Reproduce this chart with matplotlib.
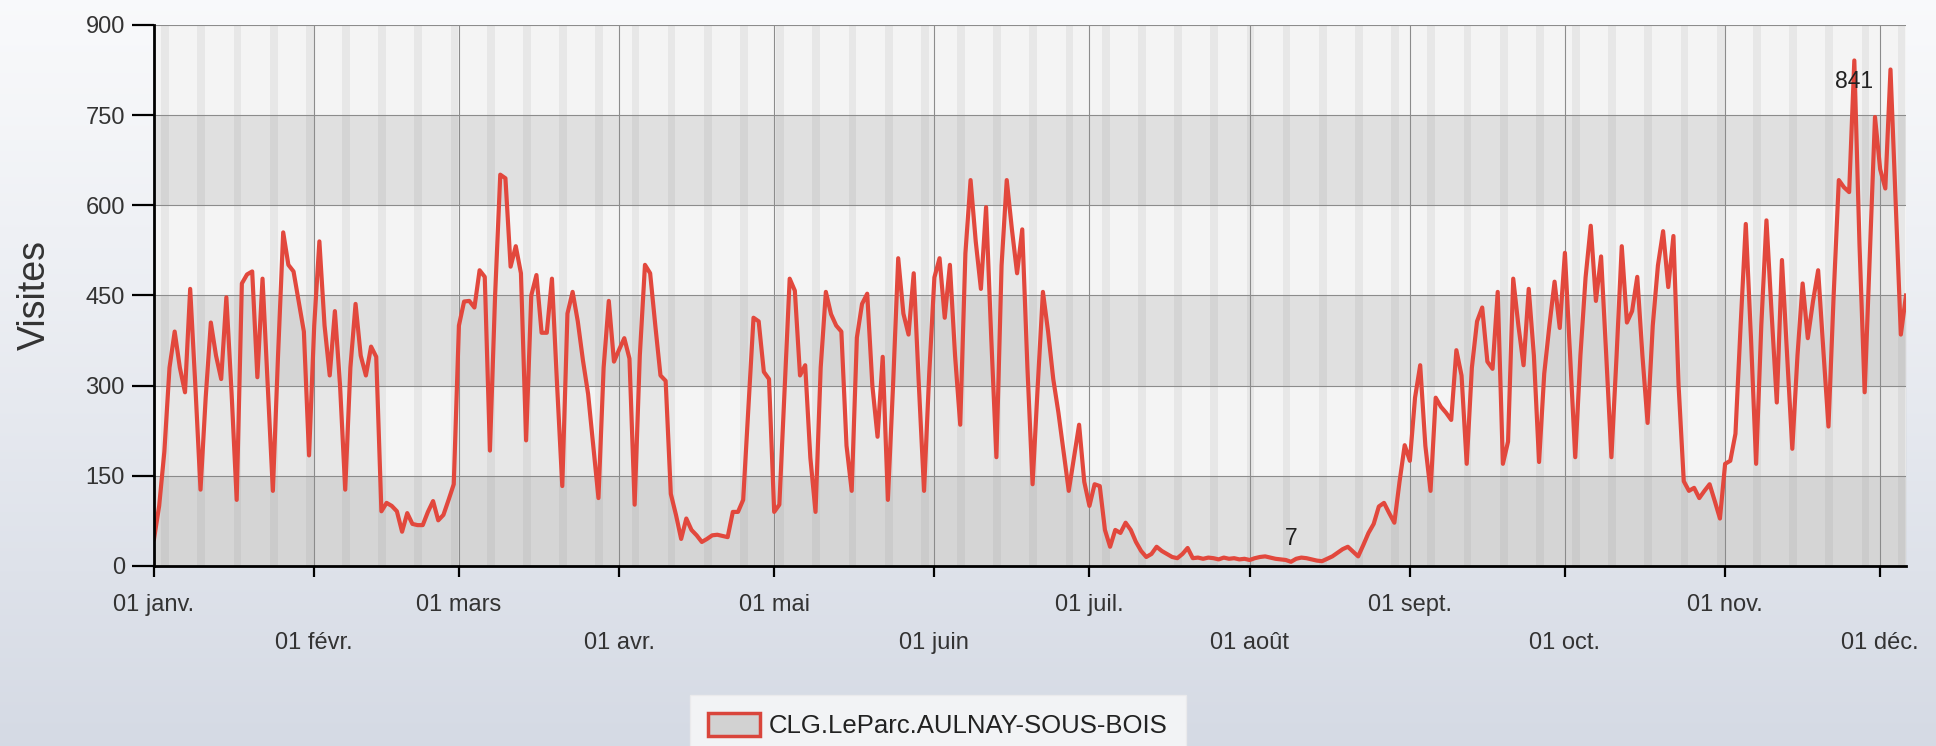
import numpy as np
import matplotlib
matplotlib.use('Agg')
import matplotlib.pyplot as plt
from matplotlib.patches import Patch

plt.rcParams['font.family'] = ['Liberation Sans', 'DejaVu Sans']

# ---------------- data ----------------
start_date = '2010-01-01'
series_name = 'CLG.LeParc.AULNAY-SOUS-BOIS'
y_label = 'Visites'
y_ticks = [0, 150, 300, 450, 600, 750, 900]
month_labels = ['01 janv.', '01 févr.', '01 mars', '01 avr.', '01 mai', '01 juin',
                '01 juil.', '01 août', '01 sept.', '01 oct.', '01 nov.', '01 déc.']

visits_jan = [45, 100, 190, 330, 390, 330, 289, 461, 300, 127,
              280, 405, 350, 311, 447, 290, 110, 470, 485, 490,
              314, 478, 300, 125, 350, 555, 501, 490, 440, 390, 184]
visits_feb = [400, 540, 400, 317, 424, 300, 127, 330, 436,
              350, 317, 365, 348, 91, 105, 100, 91, 57, 88,
              70, 68, 68, 90, 108, 76, 85, 110, 136]
visits_mar = [400, 440, 441, 430, 492, 481, 192, 450, 651, 645, 498,
              532, 487, 209, 450, 484, 388, 388, 478, 300, 133,
              420, 456, 407, 342, 286, 200, 113, 330, 441, 340]
visits_apr = [360, 379, 345, 102, 350, 501, 487, 400, 317, 308,
              120, 85, 45, 79, 60, 51, 40, 45, 51, 52,
              50, 48, 90, 90, 110, 260, 413, 407, 323, 311]
visits_may = [90, 102, 290, 478, 458, 317, 334, 180, 90, 330,
              456, 419, 400, 390, 200, 125, 380, 436, 453, 300,
              215, 348, 110, 300, 512, 420, 385, 487, 300, 125, 320]
visits_jun = [480, 512, 413, 501, 350, 235, 520, 642, 540,
              461, 597, 380, 181, 500, 642, 560, 487, 560, 330,
              136, 300, 456, 390, 311, 255, 190, 125, 180, 235, 140]
visits_jul = [100, 136, 133, 60, 32, 60, 55, 72, 60,
              40, 25, 15, 20, 32, 25, 20, 15, 13, 20,
              30, 13, 14, 12, 14, 13, 11, 14, 12, 13, 11, 12]
visits_aug = [10, 13, 15, 16, 14, 12, 11, 10, 7, 12,
              14, 13, 11, 9, 8, 12, 16, 22, 28, 32,
              24, 16, 35, 55, 70, 99, 105, 88, 72, 140, 201]
visits_sep = [175, 280, 334, 200, 125, 280, 265, 255, 243, 359,
              317, 170, 330, 407, 430, 340, 328, 456, 170, 207,
              478, 400, 334, 461, 350, 173, 320, 400, 473, 396]
visits_oct = [521, 350, 181, 350, 480, 566, 441, 515, 350, 181,
              350, 532, 405, 424, 481, 350, 238, 400, 500, 557,
              464, 549, 300, 141, 125, 130, 113, 125, 136, 108, 79]
visits_nov = [170, 175, 220, 400, 569, 380, 170, 400, 575, 420,
              272, 509, 350, 195, 350, 470, 379, 440, 492, 360,
              232, 450, 642, 630, 622, 841, 535, 289, 518, 747]
visits_dec = [660, 628, 826, 605, 385, 450]

visits = np.array(visits_jan + visits_feb + visits_mar + visits_apr + visits_may +
                  visits_jun + visits_jul + visits_aug + visits_sep + visits_oct +
                  visits_nov + visits_dec, dtype=float)

# ---------------- derived positions ----------------
d0 = np.datetime64(start_date)
dates = d0 + np.arange(len(visits))
x = (dates - d0).astype(int)
month_starts = np.arange('2010-01', '2011-01', dtype='datetime64[M]').astype('datetime64[D]')
month_pos = (month_starts - d0).astype(int)
weekday = (dates.astype(int) + 3) % 7          # Monday = 0
sundays = x[weekday == 6]

# ---------------- figure ----------------
W, H = 1936, 746
fig = plt.figure(figsize=(W / 100, H / 100), dpi=100)

# background gradient
bg = fig.add_axes([0, 0, 1, 1], zorder=-10)
g = np.linspace(0, 1, 256)[:, None, None]
top = np.array([0.975, 0.978, 0.985])
bot = np.array([0.835, 0.855, 0.895])
img = top + (bot - top) * g ** 1.1
img = np.repeat(img, 2, axis=1)
bg.imshow(img, aspect='auto', extent=[0, 1, 0, 1], origin='upper')
bg.set_axis_off()

L, R, T, B = 154, 1906, 25, 566
ax = fig.add_axes([L / W, 1 - B / H, (R - L) / W, (B - T) / H])
ax.set_facecolor('none')

ymax = 900
ax.set_xlim(0, len(visits) - 1)
ax.set_ylim(0, ymax)

# horizontal bands
band_cols = ['#e0e0e0', '#f4f4f4']
for i, (lo, hi) in enumerate(zip(y_ticks[:-1], y_ticks[1:])):
    ax.axhspan(lo, hi, color=band_cols[i % 2], zorder=0, lw=0)

# weekend stripes
for s in sundays:
    ax.axvspan(s - 0.6, s + 0.9, color='black', alpha=0.05, lw=0, zorder=0.5)

# grid
for yv in y_ticks[1:]:
    ax.axhline(yv, color='#8c8c8c', lw=0.8, zorder=1)
for mp in month_pos:
    if 0 < mp <= len(visits) - 1:
        ax.axvline(mp, color='#8c8c8c', lw=0.8, zorder=1)

# series
ax.fill_between(x, visits, 0, color='#8a8a8a', alpha=0.12, lw=0, zorder=2)
ax.plot(x, visits, color='#e2483d', lw=3.0, zorder=3, solid_joinstyle='round')

# min / max labels
imax = int(np.argmax(visits))
imin = int(np.argmin(visits))
ax.annotate(f'{int(visits[imax])}', (x[imax], visits[imax]), xytext=(0, -15),
            textcoords='offset points', ha='center', va='center',
            fontsize=16.5, color='#222222', zorder=5)
ax.annotate(f'{int(visits[imin])}', (x[imin], visits[imin]), xytext=(0, 17),
            textcoords='offset points', ha='center', va='center',
            fontsize=16.5, color='#222222', zorder=5)

# axes styling
for sp in ['top', 'right']:
    ax.spines[sp].set_visible(False)
for sp in ['left', 'bottom']:
    ax.spines[sp].set_color('black')
    ax.spines[sp].set_linewidth(2.0)
    ax.spines[sp].set_zorder(4)

ax.set_yticks(y_ticks)
ax.set_yticklabels([str(v) for v in y_ticks])
ax.tick_params(axis='y', length=16, width=1.6, pad=5, labelsize=17, labelcolor='#333333')

maj = [p for i, p in enumerate(month_pos) if i % 2 == 0]
mnr = [p for i, p in enumerate(month_pos) if i % 2 == 1]
ax.set_xticks(maj)
ax.set_xticklabels(month_labels[0::2])
ax.set_xticks(mnr, minor=True)
ax.set_xticklabels(month_labels[1::2], minor=True)
ax.tick_params(axis='x', which='major', length=8, width=1.6, pad=12.5, labelsize=17,
               labelcolor='#333333', direction='out')
ax.tick_params(axis='x', which='minor', length=8, width=1.6, pad=39.5, labelsize=17,
               labelcolor='#333333', direction='out')

fig.text(35 / W, 1 - 295 / H, y_label, rotation=90, ha='center', va='center',
         fontsize=27, color='#333333')

# legend
handle = Patch(facecolor='#d2d2d2', edgecolor='#d9453b', linewidth=2.5, label=series_name)
leg = fig.legend(handles=[handle], loc='upper center',
                 bbox_to_anchor=(938 / W, 1 - 695 / H), fontsize=18.5,
                 frameon=True, fancybox=False, facecolor='#fafafa', edgecolor='#ececec',
                 handlelength=2.0, handleheight=1.0, handletextpad=0.35,
                 borderpad=0.7, borderaxespad=0)
for t in leg.get_texts():
    t.set_color('#222222')

fig.savefig('out.png', dpi=100)
